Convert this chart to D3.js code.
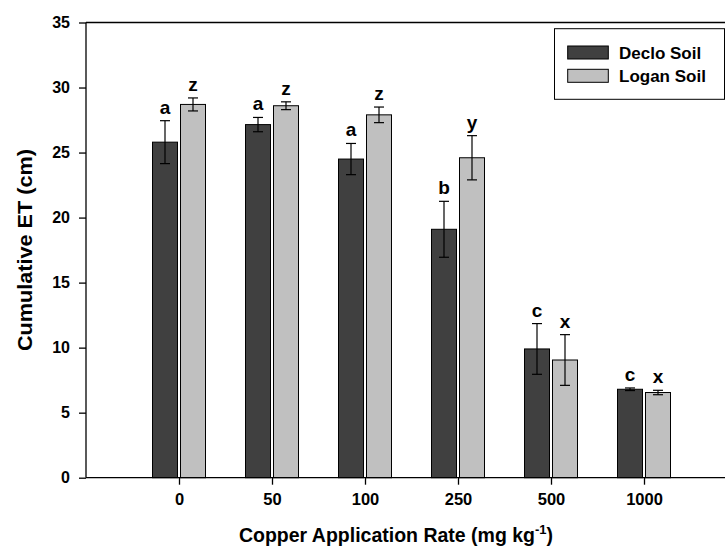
<!DOCTYPE html>
<html>
<head>
<meta charset="utf-8">
<script src="https://cdn.jsdelivr.net/npm/d3@7"></script>
<style>
  body { margin: 0; background: #fff; }
  svg text { font-family: "Liberation Sans", Arial, sans-serif; font-weight: bold; fill: #000; }
</style>
</head>
<body>
<div id="chart"></div>
<script>
var rates = ['0', '50', '100', '250', '500', '1000'];
var decloMean = [25.8, 27.15, 24.5, 19.1, 9.9, 6.8];
var decloErr = [1.65, 0.55, 1.2, 2.15, 1.95, 0.1];
var decloLetter = ['a', 'a', 'a', 'b', 'c', 'c'];
var loganMean = [28.7, 28.6, 27.9, 24.6, 9.05, 6.55];
var loganErr = [0.5, 0.3, 0.6, 1.7, 1.95, 0.17];
var loganLetter = ['z', 'z', 'z', 'y', 'x', 'x'];
var yTicks = [0, 5, 10, 15, 20, 25, 30, 35];

var width = 725, height = 549;
var svg = d3.select('#chart').append('svg')
	.attr('width', width)
	.attr('height', height);

var x = d3.scaleLinear().domain([-1, 6.5]).range([86, 86 + 93 * 7.5]);
var y = d3.scaleLinear().domain([0, 35]).range([477.7, 22.5]);

var series = [
	{ name: 'Declo Soil', mean: decloMean, err: decloErr, letter: decloLetter, fill: '#404040', off: -14 },
	{ name: 'Logan Soil', mean: loganMean, err: loganErr, letter: loganLetter, fill: '#c0c0c0', off: 14 }
];
var barW = 25;

// frame top line
svg.append('line')
	.attr('x1', 86).attr('x2', width)
	.attr('y1', y(35)).attr('y2', y(35))
	.attr('stroke', '#000').attr('stroke-width', 1.3);

series.forEach(function (s) {
	var g = svg.append('g');
	rates.forEach(function (r, i) {
		var cx = x(i) + s.off;
		g.append('rect')
			.attr('x', cx - barW / 2)
			.attr('y', y(s.mean[i]))
			.attr('width', barW)
			.attr('height', y(0) - y(s.mean[i]))
			.attr('fill', s.fill)
			.attr('stroke', '#000')
			.attr('stroke-width', 1);
		var hi = s.mean[i] + s.err[i], lo = s.mean[i] - s.err[i];
		g.append('line')
			.attr('x1', cx).attr('x2', cx)
			.attr('y1', y(hi)).attr('y2', y(lo))
			.attr('stroke', '#000').attr('stroke-width', 1.2);
		[hi, lo].forEach(function (v) {
			g.append('line')
				.attr('x1', cx - 5).attr('x2', cx + 5)
				.attr('y1', y(v)).attr('y2', y(v))
				.attr('stroke', '#000').attr('stroke-width', 1.2);
		});
		g.append('text')
			.attr('x', cx)
			.attr('y', y(hi) - 7)
			.attr('text-anchor', 'middle')
			.attr('font-size', 19)
			.text(s.letter[i]);
	});
});

// y axis
var yAxis = svg.append('g')
	.attr('transform', 'translate(86,0)')
	.call(d3.axisLeft(y).tickValues(yTicks).tickSize(7).tickPadding(9));
yAxis.selectAll('text').attr('font-size', 16).style('font-family', '"Liberation Sans", Arial, sans-serif').style('font-weight', 'bold');
yAxis.select('.domain').attr('stroke-width', 1.3).attr('d', 'M0,' + y(0) + 'V' + y(35));
yAxis.selectAll('.tick line').attr('stroke-width', 1.3);

// x axis
var xAxis = svg.append('g')
	.attr('transform', 'translate(0,' + y(0) + ')')
	.call(d3.axisBottom(x).tickValues(d3.range(rates.length))
		.tickFormat(function (i) { return rates[i]; })
		.tickSize(7).tickPadding(9));
xAxis.selectAll('text').attr('font-size', 16.5).style('font-family', '"Liberation Sans", Arial, sans-serif').style('font-weight', 'bold');
xAxis.select('.domain').attr('stroke-width', 1.3).attr('d', 'M86,0H' + width);
xAxis.selectAll('.tick line').attr('stroke-width', 1.3);

// axis titles
svg.append('text')
	.attr('transform', 'translate(31.5,' + y(17.5) + ') rotate(-90)')
	.attr('text-anchor', 'middle')
	.attr('font-size', 21)
	.attr('textLength', 202)
	.attr('lengthAdjust', 'spacingAndGlyphs')
	.text('Cumulative ET (cm)');

var xt = svg.append('text')
	.attr('x', 396)
	.attr('y', 542)
	.attr('text-anchor', 'middle')
	.attr('font-size', 19.5);
xt.append('tspan').text('Copper Application Rate (mg kg');
xt.append('tspan').attr('font-size', 13).attr('dy', -8).text('-1');
xt.append('tspan').attr('dy', 8).text(')');

// legend
var leg = svg.append('g');
leg.append('rect')
	.attr('x', 554.5).attr('y', 28.7)
	.attr('width', 170).attr('height', 70.6)
	.attr('fill', '#fff').attr('stroke', '#000').attr('stroke-width', 1);
series.forEach(function (s, k) {
	leg.append('rect')
		.attr('x', 567.7).attr('y', 46 + k * 23.3)
		.attr('width', 40.6).attr('height', 13)
		.attr('fill', s.fill).attr('stroke', '#000').attr('stroke-width', 1);
	leg.append('text')
		.attr('x', 619).attr('y', 58.8 + k * 23.3)
		.attr('font-size', 17)
		.text(s.name);
});
</script>
</body>
</html>
